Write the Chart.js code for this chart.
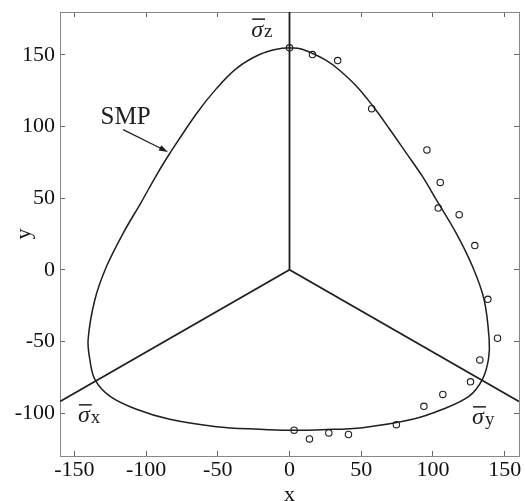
<!DOCTYPE html>
<html>
<head>
<meta charset="utf-8">
<script src="https://cdn.jsdelivr.net/npm/chart.js@4.4.0/dist/chart.umd.min.js"></script>
<style>
  html, body { margin: 0; padding: 0; background: #fff; }
  #wrap { width: 525px; height: 501px; }
</style>
</head>
<body>
<div id="wrap"><canvas id="smpChart" width="525" height="501"></canvas></div>
<script>
// SMP curve on the deviatoric plane, traced clockwise from the top
const smpX = [0, 8, 16.2, 25, 33.6, 46.4, 58, 69.6, 81.2, 92.8, 102, 116, 127.6, 135.7, 139.2, 138.7, 134.5, 125.3, 106.7, 85.8, 51, 23.2,
  0, -20.9, -51, -83.5, -106.7, -125.3, -135.7, -139.2, -140.4, -135.7, -127.6, -116, -103.2, -92.8, -83.5, -64.9, -51, -37.1, -20.9, -7, 0];
const smpY = [155, 154.2, 151, 146.5, 140.4, 128.5, 114.5, 98.5, 81.8, 65, 49.5, 26, 2.3, -20.9, -48.7, -62.6, -76.5, -88.2, -97.4, -104.4, -110.2, -111.6,
  -112, -111.3, -109.5, -104.4, -97.4, -88.2, -76.5, -62.6, -48.7, -20.9, 2.3, 25.5, 47.5, 66, 81.2, 109, 126.5, 140.5, 150.3, 154.4, 155];

// test results
const testX = [0, 16.0, 33.6, 57.3, 95.8, 105.1, 103.7, 118.3, 129.2, 138.3, 145.0, 132.7, 126.2, 106.9, 93.7, 74.5, 41.1, 27.4, 13.9, 3.2];
const testY = [155, 150.3, 146.1, 112.5, 83.7, 61.0, 43.1, 38.5, 16.9, -20.6, -47.8, -62.9, -78.2, -87.0, -95.3, -108.1, -115.0, -113.9, -118.1, -112.0];

// projected principal stress axes (origin -> edge of plot)
const axisNames = ['z', 'x', 'y'];
const axisEndX = [0, -160, 160];
const axisEndY = [180, -92, -92];

const xTicks = [-150, -100, -50, 0, 50, 100, 150];
const yTicks = [-100, -50, 0, 50, 100, 150];

// annotation anchors (data units)
const sigmaLabelX = [-26.7, -147.5, 127.3];
const sigmaLabelY = [162.8, -106.5, -107.9];
const smpLabel = [-131.7, 101.6];
const smpArrowFrom = [-116.0, 97.9];
const smpArrowTo = [-84.7, 82.3];

const serif = '"Liberation Serif", "Times New Roman", serif';
const ink = '#1e1e1e';

function toPoints(xs, ys) {
  return xs.map((v, i) => ({ x: v, y: ys[i] }));
}

// keep the plot box fixed: no extra room for overhanging tick labels
function pinScale(size) {
  return s => {
    if (s.isHorizontal()) s.height = size; else s.width = size;
    s.paddingTop = 0;
    s.paddingBottom = 0;
    s.paddingLeft = 0;
    s.paddingRight = 0;
  };
}

const axisSets = axisEndX.map((ex, i) => ({
  label: 'axis ' + axisNames[i],
  data: toPoints([0, ex], [0, axisEndY[i]]),
  showLine: true,
  borderColor: ink,
  borderWidth: 1.8,
  pointRadius: 0,
  fill: false
}));

// text labels, arrow and barred sigma symbols
const labelPlugin = {
  id: 'planeLabels',
  afterDatasetsDraw(chart) {
    const { ctx, scales: { x, y } } = chart;
    ctx.save();
    ctx.fillStyle = ink;
    ctx.strokeStyle = ink;
    ctx.textBaseline = 'alphabetic';
    ctx.textAlign = 'left';

    ctx.font = '25px ' + serif;
    ctx.fillText('SMP', x.getPixelForValue(smpLabel[0]), y.getPixelForValue(smpLabel[1]));

    const ax = x.getPixelForValue(smpArrowFrom[0]), ay = y.getPixelForValue(smpArrowFrom[1]);
    const bx = x.getPixelForValue(smpArrowTo[0]), by = y.getPixelForValue(smpArrowTo[1]);
    const ang = Math.atan2(by - ay, bx - ax);
    ctx.lineWidth = 1.2;
    ctx.beginPath();
    ctx.moveTo(ax, ay);
    ctx.lineTo(bx - 6 * Math.cos(ang), by - 6 * Math.sin(ang));
    ctx.stroke();
    ctx.beginPath();
    ctx.moveTo(bx, by);
    ctx.lineTo(bx - 9 * Math.cos(ang) + 3 * Math.sin(ang), by - 9 * Math.sin(ang) - 3 * Math.cos(ang));
    ctx.lineTo(bx - 9 * Math.cos(ang) - 3 * Math.sin(ang), by - 9 * Math.sin(ang) + 3 * Math.cos(ang));
    ctx.closePath();
    ctx.fill();

    axisNames.forEach((name, i) => {
      const px = x.getPixelForValue(sigmaLabelX[i]);
      const py = y.getPixelForValue(sigmaLabelY[i]);
      ctx.font = 'italic 24px ' + serif;
      const w = ctx.measureText('σ').width;
      ctx.fillText('σ', px, py);
      ctx.lineWidth = 1.5;
      ctx.beginPath();
      ctx.moveTo(px + 1, py - 17.5);
      ctx.lineTo(px + w + 2, py - 17.5);
      ctx.stroke();
      ctx.font = '19px ' + serif;
      ctx.fillText(name, px + w + 1, py + 0.5);
    });
    ctx.restore();
  }
};

const tickFont = { family: serif, size: 22 };

const ctx = document.getElementById('smpChart').getContext('2d');
const smpChart = new Chart(ctx, {
  type: 'scatter',
  data: {
    datasets: [
      {
        label: 'SMP',
        data: toPoints(smpX, smpY),
        showLine: true,
        tension: 0.35,
        borderColor: ink,
        borderWidth: 1.5,
        pointRadius: 0,
        fill: false
      },
      ...axisSets,
      {
        label: 'tests',
        data: toPoints(testX, testY),
        showLine: false,
        pointStyle: 'circle',
        pointRadius: 3.2,
        borderWidth: 1.1,
        borderColor: ink,
        backgroundColor: 'rgba(0,0,0,0)'
      }
    ]
  },
  options: {
    responsive: false,
    animation: false,
    events: [],
    layout: { padding: { top: 12, right: 6, left: 0, bottom: 0 } },
    plugins: {
      legend: { display: false },
      tooltip: { enabled: false }
    },
    scales: {
      x: {
        type: 'linear',
        position: 'bottom',
        min: -160,
        max: 160,
        afterBuildTicks: s => { s.ticks = xTicks.map(v => ({ value: v })); },
        afterFit: pinScale(45),
        grid: { drawOnChartArea: false, drawTicks: true, tickLength: -5, color: '#666' },
        border: { display: true, color: '#888', width: 1 },
        ticks: { color: '#111', font: tickFont, padding: 6, maxRotation: 0, autoSkip: false },
        title: { display: true, text: 'x', color: '#111', font: tickFont, padding: { top: 0, bottom: -7 } }
      },
      y: {
        type: 'linear',
        position: 'left',
        min: -130,
        max: 180,
        afterBuildTicks: s => { s.ticks = yTicks.map(v => ({ value: v })); },
        afterFit: pinScale(60),
        grid: { drawOnChartArea: false, drawTicks: true, tickLength: -5, color: '#666' },
        border: { display: true, color: '#888', width: 1 },
        ticks: { color: '#111', font: tickFont, padding: 10, autoSkip: false },
        title: { display: true, text: 'y', color: '#111', font: tickFont, padding: { top: 11, bottom: 0 } }
      },
      x2: {
        type: 'linear',
        position: 'top',
        min: -160,
        max: 160,
        afterBuildTicks: s => { s.ticks = xTicks.map(v => ({ value: v })); },
        afterFit: pinScale(0),
        grid: { drawOnChartArea: false, drawTicks: true, tickLength: -5, color: '#666' },
        border: { display: true, color: '#888', width: 1 },
        ticks: { display: false }
      },
      y2: {
        type: 'linear',
        position: 'right',
        min: -130,
        max: 180,
        afterBuildTicks: s => { s.ticks = yTicks.map(v => ({ value: v })); },
        afterFit: pinScale(0),
        grid: { drawOnChartArea: false, drawTicks: true, tickLength: -5, color: '#666' },
        border: { display: true, color: '#888', width: 1 },
        ticks: { display: false }
      }
    }
  },
  plugins: [labelPlugin]
});
</script>
</body>
</html>
